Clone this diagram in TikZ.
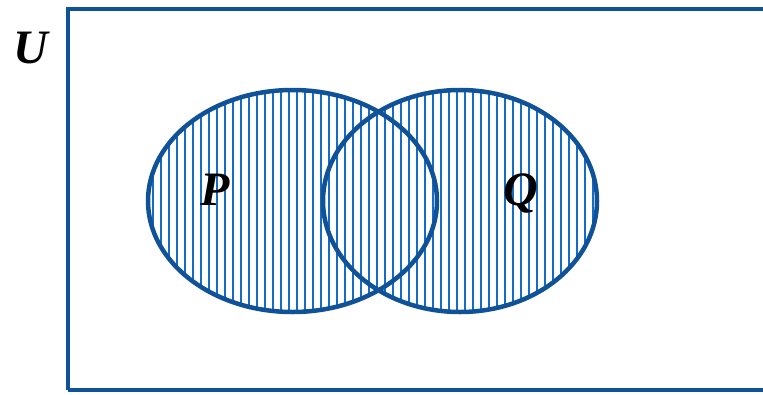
\documentclass[tikz,border=0pt]{standalone}
\usepackage{fontspec}
\setmainfont{Liberation Serif}
\definecolor{edgeblue}{RGB}{16,82,152}
\definecolor{hatchblue}{RGB}{22,108,196}
\begin{document}
\begin{tikzpicture}[x=1pt,y=-1pt,
  outline/.style={draw=edgeblue,line width=4.5pt},
  hatchline/.style={draw=hatchblue,line width=2.2pt},
  setlabel/.style={font=\fontsize{48}{48}\selectfont\bfseries\itshape,text=black,inner sep=0pt}]
\useasboundingbox (0,0) rectangle (763,394);
\fill[white] (0,0) rectangle (763,394);
% universe rectangle
\draw[outline] (68,390) -- (68,9) -- (780,9);
\draw[outline] (68,390) -- (780,390);
% hatching clipped to union of ellipses
\begin{scope}
  \clip (292.5,201) ellipse [x radius=144.5, y radius=111] (460,201) ellipse [x radius=137, y radius=111];
  \foreach \xx in {144.7,152.7,...,600} {
    \draw[hatchline] (\xx,80) -- (\xx,320);
  }
\end{scope}
\draw[outline] (292.5,201) ellipse [x radius=144.5, y radius=111];
\draw[outline] (460,201) ellipse [x radius=137, y radius=111];
\node[setlabel] (u) at (31,48) {U};
\node[setlabel] (p) at (215,190) {P};
\node[setlabel] (q) at (521,193) {Q};
\end{tikzpicture}
\end{document}
